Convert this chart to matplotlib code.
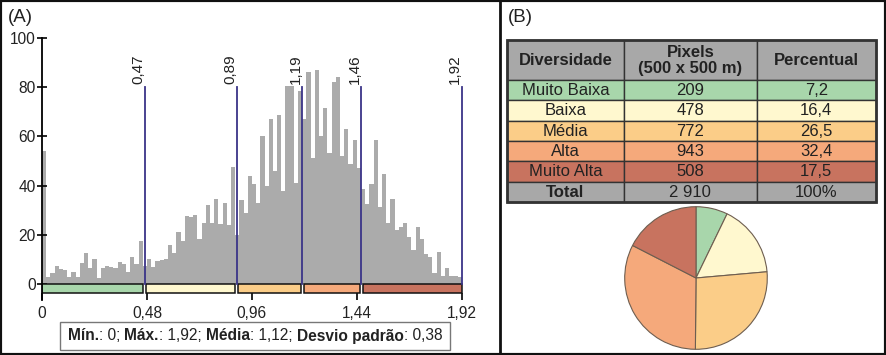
import matplotlib.pyplot as plt
from matplotlib.patches import Rectangle
from matplotlib.lines import Line2D

plt.rcParams['font.family'] = ['Liberation Sans', 'DejaVu Sans']

# (A) histograma: 100 classes de 0 a 1,92
contagens = [54, 3, 4.5, 7.5, 6, 5.5, 3, 5, 2.7, 8.5,
             12.5, 6.5, 10, 2.5, 6.5, 7.5, 7, 6.5, 9, 8,
             5, 11, 8.3, 17.6, 7.5, 10, 7, 9.4, 9.8, 10,
             16, 12.5, 21, 17.3, 27.8, 27.2, 28.2, 18.2, 24.8, 32,
             24.8, 34.6, 24.5, 33, 24, 47.6, 20, 34, 29, 43.8,
             40.8, 33, 60, 39.7, 67.2, 45.9, 68.6, 38, 80.5, 80.5,
             41, 78.5, 67.2, 86, 51.4, 87, 60, 71.4, 53.3, 82.2,
             84.2, 52, 63.2, 48.6, 58.4, 47.2, 38.6, 32.7, 40.8, 58.4,
             31.3, 44.6, 24.8, 34.5, 22, 23, 24.8, 19, 13.9, 23,
             18.2, 12.2, 10.9, 4.4, 13.2, 3.3, 6.4, 3.3, 3.3, 2.7]
limites = [0, 0.47, 0.89, 1.19, 1.46, 1.92]
ticks_x = [0, 0.48, 0.96, 1.44, 1.92]
ticks_x_rotulos = ['0', '0,48', '0,96', '1,44', '1,92']
ticks_y = [0, 20, 40, 60, 80, 100]

# (B) tabela e pizza
classes = ['Muito Baixa', 'Baixa', 'Média', 'Alta', 'Muito Alta']
pixels = [209, 478, 772, 943, 508]
percentual = ['7,2', '16,4', '26,5', '32,4', '17,5']
cabecalho = ['Diversidade', 'Pixels\n(500 x 500 m)', 'Percentual']
linha_total = ['Total', '2 910', '100%']
cores = ['#a8d6ab', '#fff8cf', '#fbcd88', '#f5a97b', '#c8735f']
cinza = '#a8a8a8'

estatisticas = [('Mín.', 'bold'), (': 0; ', 'normal'), ('Máx.', 'bold'),
                (': 1,92; ', 'normal'), ('Média', 'bold'), (': 1,12; ', 'normal'),
                ('Desvio padrão', 'bold'), (': 0,38', 'normal')]

W, H = 886, 355
fig = plt.figure(figsize=(W / 100, H / 100), dpi=100)

def caixa(x0, y0, x1, y1):
    # pixels da imagem -> fração da figura
    return [x0 / W, 1 - y1 / H, (x1 - x0) / W, (y1 - y0) / H]

# ---------- histograma ----------
ax = fig.add_axes(caixa(42, 38, 464, 300))
larg = limites[-1] / len(contagens)
xs = [i * larg for i in range(len(contagens))]
ax.bar(xs, contagens, width=larg, align='edge', color='#ababab', linewidth=0, zorder=1)

for v in limites[1:]:
    ax.plot([v, v], [0, 80], color='#3b3488', lw=1.3, zorder=3)
    ax.text(v - 0.03, 81.5, f'{v:.2f}'.replace('.', ','), rotation=90,
            ha='center', va='bottom', fontsize=11, color='#222')

gap = 0.007
for i in range(len(classes)):
    a = limites[i] + (gap if i > 0 else 0)
    b = limites[i + 1] - (gap if i < len(classes) - 1 else 0)
    ax.add_patch(Rectangle((a, -3.8), b - a, 3.8, facecolor=cores[i],
                           edgecolor='#111', lw=1.1, zorder=2))

ax.set_xlim(0, 1.93)
ax.set_ylim(-6.5, 100)
ax.set_xticks(ticks_x)
ax.set_xticklabels(ticks_x_rotulos, fontsize=11.2, color='#222')
ax.set_yticks(ticks_y)
ax.set_yticklabels([str(t) for t in ticks_y], fontsize=11.2, color='#222')
ax.tick_params(axis='x', direction='in', length=5, width=1.2, pad=4)
ax.tick_params(axis='y', direction='inout', length=7, width=1.2, pad=1)
for s in ['top', 'right', 'bottom']:
    ax.spines[s].set_visible(False)
ax.spines['left'].set_linewidth(1.3)
ax.patch.set_alpha(0)

# caixa de estatísticas
r = fig.canvas.get_renderer()
pecas = []
for txt, peso in estatisticas:
    pecas.append(fig.text(0, 1 - 336 / H, txt, fontsize=11.2, fontweight=peso,
                          va='center', ha='left', color='#222'))
larguras = [p.get_window_extent(r).width for p in pecas]
x = 255 - sum(larguras) / 2
for p, w in zip(pecas, larguras):
    p.set_x(x / W)
    x += w
fig.patches.append(Rectangle((60 / W, 1 - 350 / H), 390 / W, 28 / H,
                             transform=fig.transFigure, fill=False,
                             edgecolor='#777', lw=1))

fig.text(8 / W, 1 - 18 / H, '(A)', fontsize=13.5, va='center', color='#222')
fig.text(508 / W, 1 - 18 / H, '(B)', fontsize=13.5, va='center', color='#222')

# ---------- tabela ----------
col = [506.7, 624, 756.7, 876]
lin = [40, 80, 100.3, 120.6, 141, 161.3, 181.6, 201.7]
at = fig.add_axes(caixa(col[0], lin[0], col[-1], lin[-1]))
at.set_xlim(col[0], col[-1])
at.set_ylim(lin[-1], lin[0])
at.axis('off')

linhas = [cabecalho]
for c, p, q in zip(classes, pixels, percentual):
    linhas.append([c, str(p), q])
linhas.append(linha_total)
fundos = [cinza] + cores + [cinza]

for i, valores in enumerate(linhas):
    for j, t in enumerate(valores):
        at.add_patch(Rectangle((col[j], lin[i]), col[j + 1] - col[j], lin[i + 1] - lin[i],
                               facecolor=fundos[i], edgecolor='#333', lw=1, clip_on=False))
        negrito = i == 0 or (i == len(linhas) - 1 and j == 0)
        at.text((col[j] + col[j + 1]) / 2, (lin[i] + lin[i + 1]) / 2 + 0.5, t,
                ha='center', va='center', fontsize=12, linespacing=1.15,
                fontweight='bold' if negrito else 'normal', color='#222')
at.add_patch(Rectangle((col[0], lin[0]), col[-1] - col[0], lin[-1] - lin[0],
                       fill=False, edgecolor='#333', lw=2, clip_on=False))

# ---------- pizza ----------
ap = fig.add_axes(caixa(696 - 72, 278 - 72, 696 + 72, 278 + 72))
ap.pie(pixels, colors=cores, startangle=90, counterclock=False,
       wedgeprops=dict(edgecolor='#6e5e50', linewidth=0.8))
ap.set_xlim(-1.01, 1.01)
ap.set_ylim(-1.01, 1.01)
ap.set_aspect('auto')

# moldura e divisória
fig.patches.append(Rectangle((0, 0), 1, 1, transform=fig.transFigure, fill=False,
                             edgecolor='#111', lw=3))
fig.lines.append(Line2D([500 / W, 500 / W], [0, 1], transform=fig.transFigure,
                        color='#111', lw=2))

fig.savefig('out.png', dpi=100)
